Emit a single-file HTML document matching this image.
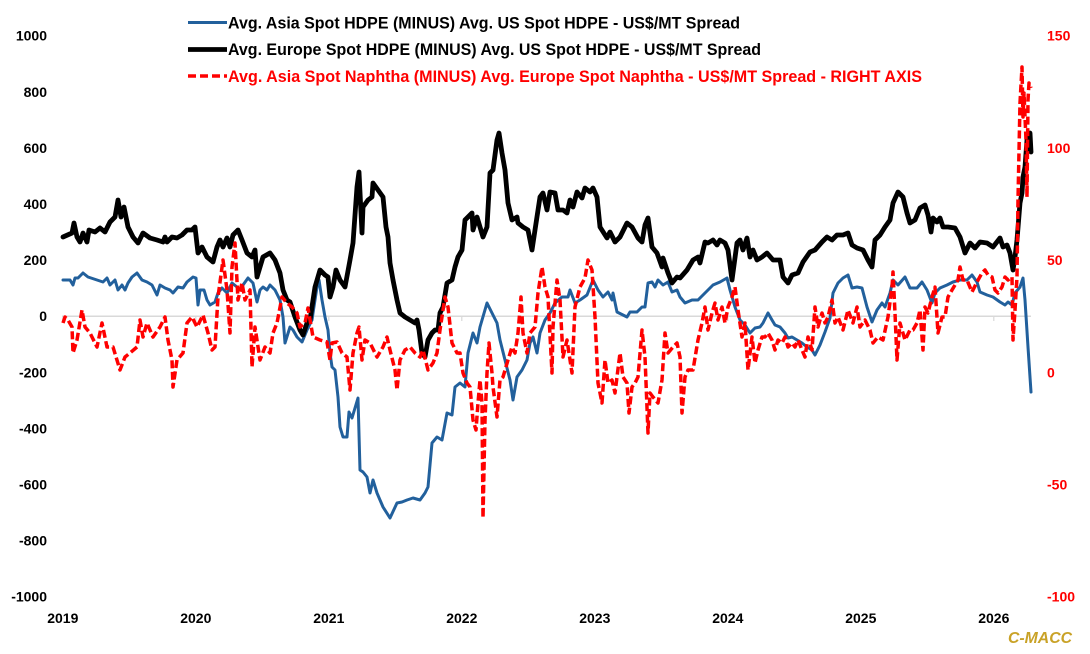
<!DOCTYPE html>
<html>
<head>
<meta charset="utf-8">
<style>
html,body{margin:0;padding:0;background:#fff;}
svg{display:block;}
.ax{font-family:"Liberation Sans",sans-serif;font-weight:bold;font-size:14px;}
.lg{font-family:"Liberation Sans Narrow","Liberation Sans",sans-serif;font-weight:bold;font-size:17px;}
</style>
</head>
<body>
<svg width="1090" height="654" viewBox="0 0 1090 654" xmlns="http://www.w3.org/2000/svg">
<rect x="0" y="0" width="1090" height="654" fill="#fff"/>

<!-- zero gridline and ticks -->
<line x1="62" y1="316.2" x2="1031" y2="316.2" stroke="#d9d9d9" stroke-width="1.5"/>
<g stroke="#d9d9d9" stroke-width="1.2">
<line x1="62.8" y1="316" x2="62.8" y2="321"/>
<line x1="195.8" y1="316" x2="195.8" y2="321"/>
<line x1="328.8" y1="316" x2="328.8" y2="321"/>
<line x1="461.8" y1="316" x2="461.8" y2="321"/>
<line x1="594.8" y1="316" x2="594.8" y2="321"/>
<line x1="727.8" y1="316" x2="727.8" y2="321"/>
<line x1="860.8" y1="316" x2="860.8" y2="321"/>
<line x1="993.8" y1="316" x2="993.8" y2="321"/>
</g>

<!-- left axis labels -->
<g class="ax" fill="#000" text-anchor="end">
<text x="47" y="40.7">1000</text>
<text x="47" y="96.8">800</text>
<text x="47" y="152.9">600</text>
<text x="47" y="209">400</text>
<text x="47" y="265.1">200</text>
<text x="47" y="321.2">0</text>
<text x="47" y="377.3">-200</text>
<text x="47" y="433.4">-400</text>
<text x="47" y="489.5">-600</text>
<text x="47" y="545.6">-800</text>
<text x="47" y="601.7">-1000</text>
</g>

<!-- right axis labels -->
<g class="ax" fill="#ff0000" text-anchor="start">
<text x="1047" y="40.7">150</text>
<text x="1047" y="152.9">100</text>
<text x="1047" y="265.1">50</text>
<text x="1047" y="377.3">0</text>
<text x="1047" y="489.5">-50</text>
<text x="1047" y="601.7">-100</text>
</g>

<!-- x axis labels -->
<g class="ax" fill="#000" text-anchor="middle">
<text x="62.8" y="623">2019</text>
<text x="195.8" y="623">2020</text>
<text x="328.8" y="623">2021</text>
<text x="461.8" y="623">2022</text>
<text x="594.8" y="623">2023</text>
<text x="727.8" y="623">2024</text>
<text x="860.8" y="623">2025</text>
<text x="993.8" y="623">2026</text>
</g>

<!-- Blue series -->
<polyline fill="none" stroke="#22609c" stroke-width="3" stroke-linejoin="round" stroke-linecap="round" points="63,280 70,280 73,285 75,278 78,278 83,273 88,277 97,280 103,282 107,278 110,285 115,280 118,290 122,285 125,290 128,283 132,277 137,273 142,280 147,282 152,285 157,295 160,285 165,288 170,290 173,293 178,287 183,288 187,282 193,277 196,278 198,305 200,290 204,290 207,300 210,305 215,302 218,293 222,288 227,293 232,283 237,287 240,290 243,285 248,278 253,283 257,302 260,290 263,287 267,290 270,285 275,290 280,300 283,317 285,343 290,327 293,330 297,337 302,342 307,330 312,320 313,313 317,287 319,280 322,300 325,317 328,330 330,353 332,367 335,370 338,397 340,427 343,437 347,437 349,412 352,418 355,408 358,398 360,470 363,472 367,477 370,493 373,480 377,493 383,507 390,518 397,503 402,502 407,500 413,498 420,500 425,493 428,487 432,443 437,437 442,440 447,413 452,415 455,387 460,383 465,387 468,353 473,333 477,343 480,327 487,303 492,313 497,323 500,340 505,360 510,380 513,400 517,377 522,370 527,360 530,343 533,337 537,353 540,333 545,320 550,313 555,303 562,297 568,297 570,290 575,303 580,300 587,295 593,280 598,290 603,297 608,292 612,300 613,293 617,312 623,315 627,317 630,312 637,312 642,307 645,307 648,283 652,282 655,287 658,280 663,285 668,282 672,292 677,290 680,297 685,303 692,300 698,300 705,293 713,285 720,282 727,278 730,290 735,307 740,320 745,325 750,333 755,328 760,327 763,323 768,313 772,320 775,325 780,327 785,333 788,338 792,337 797,340 802,343 807,347 812,350 815,355 820,345 825,332 830,318 833,293 838,283 843,278 848,275 852,288 857,287 862,288 867,307 872,322 877,310 882,303 885,307 890,293 893,280 898,285 905,277 910,288 917,288 922,282 927,290 932,303 935,293 940,288 947,285 953,282 960,280 967,280 972,275 977,282 980,292 987,295 993,297 1000,302 1005,305 1008,302 1012,305 1015,293 1020,287 1023,278 1025,300 1028,347 1031,392"/>

<!-- Black series -->
<polyline fill="none" stroke="#000" stroke-width="4.8" stroke-linejoin="round" stroke-linecap="round" points="63,237 72,233 74,223 77,237 80,242 83,233 87,242 89,230 95,232 100,228 105,232 110,222 115,217 118,200 121,217 124,207 128,227 133,237 138,243 143,233 150,238 157,240 163,242 165,237 167,242 172,237 177,238 182,235 187,230 192,230 195,227 198,253 202,247 207,257 213,262 217,247 220,240 223,247 227,238 230,247 233,235 238,230 242,240 247,253 252,257 255,250 257,277 260,267 263,257 270,253 275,260 280,273 283,290 287,300 290,302 295,317 300,330 303,335 308,320 310,320 315,287 320,270 325,275 328,277 330,297 333,287 336,270 340,280 345,287 350,260 353,243 357,187 359,172 362,233 363,207 368,200 372,197 373,183 378,190 383,197 386,227 388,237 390,263 393,280 397,300 400,313 405,317 410,320 415,323 417,320 419,330 422,353 425,357 428,340 432,333 435,330 438,330 440,313 443,307 447,283 452,280 455,267 458,257 462,250 465,220 468,217 472,213 473,230 477,217 480,227 483,237 487,227 490,173 493,170 497,140 499,133 502,153 505,170 508,203 512,220 517,217 518,223 523,227 528,230 532,250 535,230 540,197 543,193 547,210 550,192 555,193 558,210 563,210 567,213 570,200 573,207 577,192 582,198 585,188 590,192 593,188 597,197 600,227 607,238 610,232 615,242 620,237 627,223 632,227 638,238 642,242 645,225 648,218 652,247 657,253 662,267 663,258 668,273 672,283 677,277 680,278 687,270 693,260 698,257 700,263 705,242 708,243 713,240 717,245 720,240 725,243 728,250 732,280 737,243 740,240 743,250 747,238 750,257 753,250 757,260 762,257 767,253 773,260 780,260 783,277 788,283 792,275 798,273 803,262 810,252 815,250 822,242 827,237 832,240 837,235 843,235 848,233 852,245 857,248 863,250 868,260 872,267 875,240 880,235 885,227 890,220 893,203 898,192 903,197 907,213 910,223 915,220 920,208 925,205 928,215 931,232 933,218 937,222 940,218 943,227 948,227 955,228 960,237 965,253 970,243 975,248 980,242 987,243 993,247 1000,238 1003,247 1007,245 1010,253 1013,270 1015,257 1017,240 1020,203 1022,193 1023,177 1025,167 1027,140 1030,133 1031,152"/>

<!-- Red dashed series -->
<polyline fill="none" stroke="#ff0000" stroke-width="3.5" stroke-dasharray="8,3.5" stroke-linejoin="round" points="63,323 65,317 68,320 72,327 73,353 77,340 82,310 85,327 90,333 97,347 102,323 107,347 113,347 120,370 125,357 130,353 137,347 140,320 143,337 147,323 153,337 160,327 165,317 168,340 172,360 173,387 177,360 183,353 187,323 192,317 197,327 203,315 208,333 212,350 215,347 218,297 223,260 227,290 230,333 232,267 235,243 238,300 242,283 245,300 250,290 252,367 255,327 260,360 265,347 270,353 273,333 277,323 282,297 287,303 292,307 297,313 300,327 305,323 308,308 313,337 320,340 327,342 330,360 332,343 337,342 342,353 347,357 350,390 353,353 357,333 359,327 362,360 365,340 370,343 377,357 383,347 387,337 390,350 395,370 397,390 400,360 405,350 410,347 415,353 420,357 423,350 428,370 433,363 437,353 440,330 445,297 448,307 452,343 457,353 460,353 463,373 467,383 470,387 473,420 476,430 478,403 480,380 482,403 483,518 485,420 487,373 489,343 492,373 493,387 497,417 500,380 503,377 508,360 512,347 515,353 518,333 521,297 523,333 527,353 530,333 535,327 538,293 542,267 545,287 548,297 552,373 553,327 557,280 560,300 563,357 567,340 572,373 575,307 580,287 585,278 588,260 592,270 595,317 598,383 602,403 605,360 608,383 612,380 615,393 620,353 623,377 627,383 629,413 632,387 635,383 638,377 642,330 645,357 648,433 650,393 653,397 658,403 662,380 665,333 668,353 673,347 677,343 680,357 682,413 685,377 688,370 693,370 698,340 702,323 705,307 708,330 712,313 715,303 718,320 722,307 725,323 728,307 732,297 735,287 738,310 742,337 745,323 748,370 752,337 755,363 758,350 762,337 765,337 768,333 772,340 775,350 778,340 782,343 785,337 788,347 792,343 795,347 798,340 802,350 805,357 808,337 812,350 815,307 818,327 822,313 825,323 828,317 832,300 835,323 838,317 843,330 848,310 853,323 857,307 860,327 865,320 870,330 873,343 878,337 883,340 888,317 892,287 893,272 895,313 897,360 900,323 905,340 910,330 913,330 917,323 920,310 923,350 925,307 928,313 932,297 935,287 938,333 942,317 945,317 948,297 952,290 955,285 958,280 960,267 963,280 967,280 972,292 977,282 982,273 985,270 988,275 992,277 995,290 998,293 1002,287 1005,277 1008,280 1012,277 1013,340 1015,310 1017,277 1018,200 1020,103 1022,67 1023,117 1024,93 1026,140 1027,197 1028,100 1029,83 1031,88"/>

<!-- Legend -->
<line x1="188" y1="22.5" x2="227" y2="22.5" stroke="#22609c" stroke-width="3"/>
<line x1="188" y1="49.5" x2="227" y2="49.5" stroke="#000" stroke-width="4.8"/>
<line x1="188" y1="76" x2="227" y2="76" stroke="#ff0000" stroke-width="3.5" stroke-dasharray="8,4"/>
<text class="lg" x="228" y="28.5" fill="#000" textLength="512" lengthAdjust="spacingAndGlyphs">Avg. Asia Spot HDPE (MINUS) Avg. US Spot HDPE - US$/MT Spread</text>
<text class="lg" x="228" y="55" fill="#000" textLength="533" lengthAdjust="spacingAndGlyphs">Avg. Europe Spot HDPE (MINUS) Avg. US Spot HDPE - US$/MT Spread</text>
<text class="lg" x="228" y="82" fill="#ff0000" textLength="694" lengthAdjust="spacingAndGlyphs">Avg. Asia Spot Naphtha (MINUS) Avg. Europe Spot Naphtha - US$/MT Spread - RIGHT AXIS</text>

<!-- Logo -->
<text x="1008" y="643" font-family="Liberation Sans, sans-serif" font-weight="bold" font-style="italic" font-size="16" fill="#c9a227" textLength="64" lengthAdjust="spacingAndGlyphs">C-MACC</text>
</svg>
</body>
</html>
